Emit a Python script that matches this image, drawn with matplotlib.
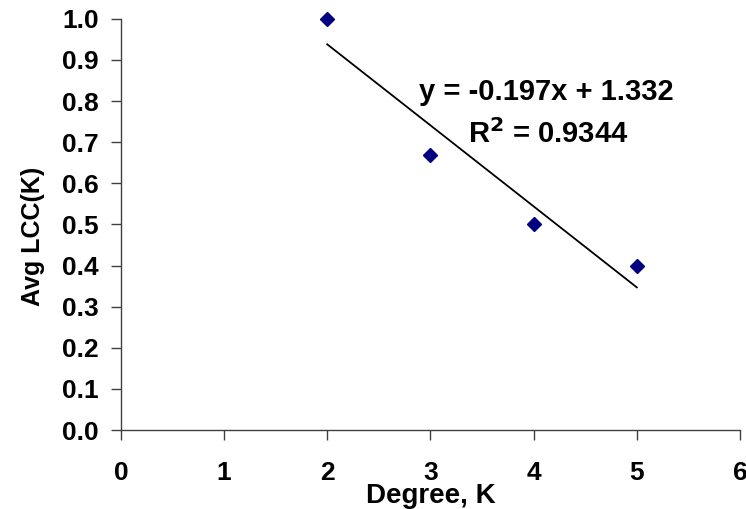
import numpy as np
import matplotlib.pyplot as plt

degree = [2, 3, 4, 5]
avg_lcc = [1.0, 0.67, 0.5, 0.4]
x_ticks = [0, 1, 2, 3, 4, 5, 6]
y_ticks = [0.0, 0.1, 0.2, 0.3, 0.4, 0.5, 0.6, 0.7, 0.8, 0.9, 1.0]

plt.rcParams['font.family'] = ['Liberation Sans', 'DejaVu Sans']
plt.rcParams['font.weight'] = 'bold'

fig = plt.figure(figsize=(7.46, 5.09), dpi=100)
ax = fig.add_axes([0.162, 0.155, 0.83, 0.808])

# linear trendline, like excel
slope, icept = np.polyfit(degree, avg_lcc, 1)
fit = np.polyval([slope, icept], degree)
r2 = 1 - np.sum((np.array(avg_lcc) - fit)**2) / np.sum((np.array(avg_lcc) - np.mean(avg_lcc))**2)

xs = np.array([degree[0], degree[-1]])
ax.plot(xs, slope*xs + icept, color='black', linewidth=1.3)
ax.plot(degree, avg_lcc, linestyle='none', marker='D', markersize=7,
        color='#000080', clip_on=False)

ax.text(4.12, 0.822, f"y = {slope:.3f}x + {icept:.3f}", fontsize=21,
        fontweight='bold', ha='center', va='center')
ax.text(4.14, 0.72, f"R$^2$ = {r2:.4f}", fontsize=21,
        fontweight='bold', ha='center', va='center')

ax.set_xlim(0, 6)
ax.set_ylim(0, 1.0)
ax.set_xticks(x_ticks)
ax.set_yticks(y_ticks)
ax.set_yticklabels([f"{v:.1f}" for v in y_ticks])
ax.tick_params(axis='x', direction='out', length=7, width=1, pad=15, labelsize=19, color='#404040')
ax.tick_params(axis='y', direction='out', length=7, width=1, pad=9, labelsize=19, color='#404040')
for lab in ax.get_xticklabels() + ax.get_yticklabels():
    lab.set_fontweight('bold')

for s in ['top', 'right']:
    ax.spines[s].set_visible(False)
for s in ['left', 'bottom']:
    ax.spines[s].set_color('#404040')
    ax.spines[s].set_linewidth(1)

ax.set_xlabel('Degree, K', fontsize=20, fontweight='bold', labelpad=-1.5)
ax.set_ylabel('Avg LCC(K)', fontsize=18, fontweight='bold', labelpad=12)
ax.yaxis.label.set_y(0.47)

fig.savefig('out.png', dpi=100)
